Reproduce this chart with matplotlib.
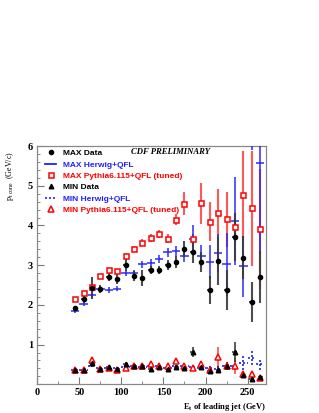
import matplotlib
matplotlib.use('Agg')
import numpy as np
import matplotlib.pyplot as plt
from matplotlib.lines import Line2D
from matplotlib.ticker import MultipleLocator

plt.rcParams['mathtext.default'] = 'regular'

# leading jet Et bin centres (GeV)
et = [45, 55, 65, 75, 85, 95, 105, 115, 125, 135, 145, 155,
      165, 175, 185, 195, 205, 215, 225, 235, 245, 255, 265]

# MAX region
max_data = [1.92, 2.14, 2.43, 2.39, 2.70, 2.65, 3.00, 2.73, 2.67, 2.87, 2.89, 3.00,
            3.08, 3.41, 3.32, 3.07, 2.37, 3.10, 2.38, 3.71, 3.19, 2.07, 2.71]
max_data_err = [0.05, 0.08, 0.27, 0.10, 0.10, 0.12, 0.15, 0.13, 0.20, 0.10, 0.10, 0.12,
                0.15, 0.20, 0.27, 0.25, 0.35, 0.60, 0.50, 0.60, 0.55, 0.50, 0.65]
max_herwig = [1.84, 2.01, 2.24, 2.41, 2.37, 2.41, 2.81, 2.81, 3.02, 3.05, 3.15, 3.32,
              3.36, 3.23, 3.67, 3.23, 3.08, 3.30, 3.02, 4.11, 2.97, 7.00, 5.57]
max_herwig_err = [0.05, 0.05, 0.06, 0.06, 0.07, 0.07, 0.08, 0.08, 0.09, 0.10, 0.10, 0.12,
                  0.13, 0.15, 0.35, 0.28, 0.42, 0.48, 0.80, 1.10, 0.76, 1.10, 2.30]
max_pythia = [2.14, 2.29, 2.45, 2.72, 2.87, 2.85, 3.23, 3.40, 3.57, 3.68, 3.78, 3.67,
              4.15, 4.55, 3.67, 4.56, 4.09, 4.32, 4.16, 3.97, 4.76, 4.43, 3.91]
max_pythia_err = [0.04, 0.05, 0.05, 0.05, 0.06, 0.06, 0.07, 0.08, 0.09, 0.10, 0.10, 0.12,
                  0.15, 0.28, 0.12, 0.52, 0.49, 0.60, 0.69, 0.20, 1.12, 1.45, 1.50]

# MIN region
min_data = [0.35, 0.37, 0.54, 0.39, 0.44, 0.39, 0.51, 0.47, 0.45, 0.39, 0.44, 0.39,
            0.44, 0.41, 0.81, 0.44, 0.33, 0.37, 0.47, 0.81, 0.24, 0.14, 0.18]
min_data_err = [0.02, 0.02, 0.10, 0.03, 0.03, 0.03, 0.05, 0.04, 0.04, 0.04, 0.04, 0.04,
                0.05, 0.05, 0.12, 0.06, 0.06, 0.08, 0.10, 0.25, 0.06, 0.06, 0.06]
min_herwig = [0.36, 0.37, 0.45, 0.40, 0.42, 0.40, 0.44, 0.45, 0.44, 0.45, 0.45, 0.42,
              0.47, 0.45, 0.44, 0.42, 0.40, 0.38, 0.45, 0.47, 0.54, 0.67, 0.50]
min_herwig_err = [0.02, 0.02, 0.02, 0.02, 0.02, 0.02, 0.03, 0.03, 0.03, 0.03, 0.03, 0.03,
                  0.04, 0.04, 0.05, 0.05, 0.06, 0.07, 0.10, 0.12, 0.17, 0.19, 0.15]
min_pythia = [0.35, 0.37, 0.60, 0.39, 0.41, 0.37, 0.41, 0.47, 0.47, 0.50, 0.47, 0.47,
              0.59, 0.47, 0.41, 0.52, 0.37, 0.70, 0.47, 0.47, 0.27, 0.25, 0.17]
min_pythia_err = [0.02, 0.02, 0.03, 0.02, 0.02, 0.02, 0.03, 0.03, 0.03, 0.03, 0.03, 0.04,
                  0.05, 0.05, 0.06, 0.07, 0.08, 0.25, 0.10, 0.20, 0.05, 0.05, 0.05]

RED = '#ff3b3b'
BLUE = '#2020ff'
GREY = '#3a3a3a'

fig = plt.figure(figsize=(3.19, 4.13), dpi=100)
ax = fig.add_axes([0.117, 0.0714, 0.717, 0.575])

# Pythia (red, open markers)
ax.errorbar(et, max_pythia, yerr=max_pythia_err, fmt='none', ecolor=RED, elinewidth=1.5, alpha=0.85, zorder=2)
ax.plot(et, max_pythia, 's', ms=3.6, mfc='white', mec='red', mew=1.1, zorder=5)
ax.errorbar(et, min_pythia, yerr=min_pythia_err, fmt='none', ecolor=RED, elinewidth=1.3, alpha=0.85, zorder=2)
ax.plot(et, min_pythia, '^', ms=3.9, mfc='white', mec='red', mew=1.1, zorder=5)

# Herwig (blue crosses)
ax.errorbar(et, max_herwig, yerr=max_herwig_err, xerr=5, fmt='none', ecolor=BLUE, elinewidth=1.3, alpha=0.8, zorder=3)
eb = ax.errorbar(et, min_herwig, yerr=min_herwig_err, xerr=5, fmt='none', ecolor=BLUE, elinewidth=1.2, zorder=3)
for c in eb[2]:
    c.set_linestyle((0, (1.2, 1.2)))

# Data (black)
ax.errorbar(et, max_data, yerr=max_data_err, xerr=3, fmt='none', ecolor=GREY, elinewidth=1.5, alpha=0.9, zorder=4)
ax.plot(et, max_data, 'o', ms=3.0, color='black', zorder=6)
ax.errorbar(et, min_data, yerr=min_data_err, xerr=3, fmt='none', ecolor=GREY, elinewidth=1.3, alpha=0.9, zorder=4)
ax.plot(et, min_data, '^', ms=3.3, color='black', zorder=6)

ax.set_xlim(0, 272)
ax.set_ylim(0.02, 6.0)
ax.set_yticks([1, 2, 3, 4, 5, 6])
ax.set_xticks([0, 50, 100, 150, 200, 250])
ax.xaxis.set_minor_locator(MultipleLocator(25))
ax.yaxis.set_minor_locator(MultipleLocator(0.2))
ax.tick_params(which='both', direction='in', colors='#777777', top=False, right=False)
ax.tick_params(which='major', length=5, width=0.8, pad=3)
ax.tick_params(which='minor', length=2.5, width=0.6)
for lab in ax.get_xticklabels() + ax.get_yticklabels():
    lab.set_family('Liberation Serif')
    lab.set_fontweight('bold')
    lab.set_fontsize(7.5)
    lab.set_color('black')
for s in ax.spines.values():
    s.set_color('#888888')
    s.set_linewidth(0.9)

ax.set_xlabel('E$_t$ of leading jet (GeV)', family='Liberation Serif', fontweight='bold', fontsize=6.1, loc='right')
ax.xaxis.set_label_coords(1.0, -0.072)
ax.set_ylabel('p$_{t\\ cone}$  (GeV/c)', family='Liberation Serif', fontsize=5.8, loc='top')
ax.yaxis.set_label_coords(-0.095, 0.98)

ax.text(0.584, 0.975, 'CDF PRELIMINARY', transform=ax.transAxes, ha='center', va='center',
        family='Liberation Serif', fontweight='bold', style='italic', fontsize=6.2)

handles = [
    Line2D([], [], ls='none', marker='o', ms=3.0, color='black'),
    Line2D([], [], color=BLUE, lw=1.3),
    Line2D([], [], ls='none', marker='s', ms=3.6, mfc='white', mec='red', mew=1.1),
    Line2D([], [], ls='none', marker='^', ms=3.3, color='black'),
    Line2D([], [], color=BLUE, lw=1.2, ls=(0, (1.2, 1.2))),
    Line2D([], [], ls='none', marker='^', ms=3.9, mfc='white', mec='red', mew=1.1),
]
labels = ['MAX Data', 'MAX Herwig+QFL', 'MAX Pythia6.115+QFL (tuned)',
          'MIN Data', 'MIN Herwig+QFL', 'MIN Pythia6.115+QFL (tuned)']
leg = ax.legend(handles, labels, loc='upper left', bbox_to_anchor=(0.01, 1.01), frameon=False,
                prop={'family': 'Liberation Sans', 'weight': 'bold', 'size': 6.0},
                handlelength=1.3, handletextpad=0.8, labelspacing=0.42, borderaxespad=0.3,
                labelcolor=['black', BLUE, 'red', 'black', BLUE, 'red'])

fig.savefig('out.png', dpi=100)
